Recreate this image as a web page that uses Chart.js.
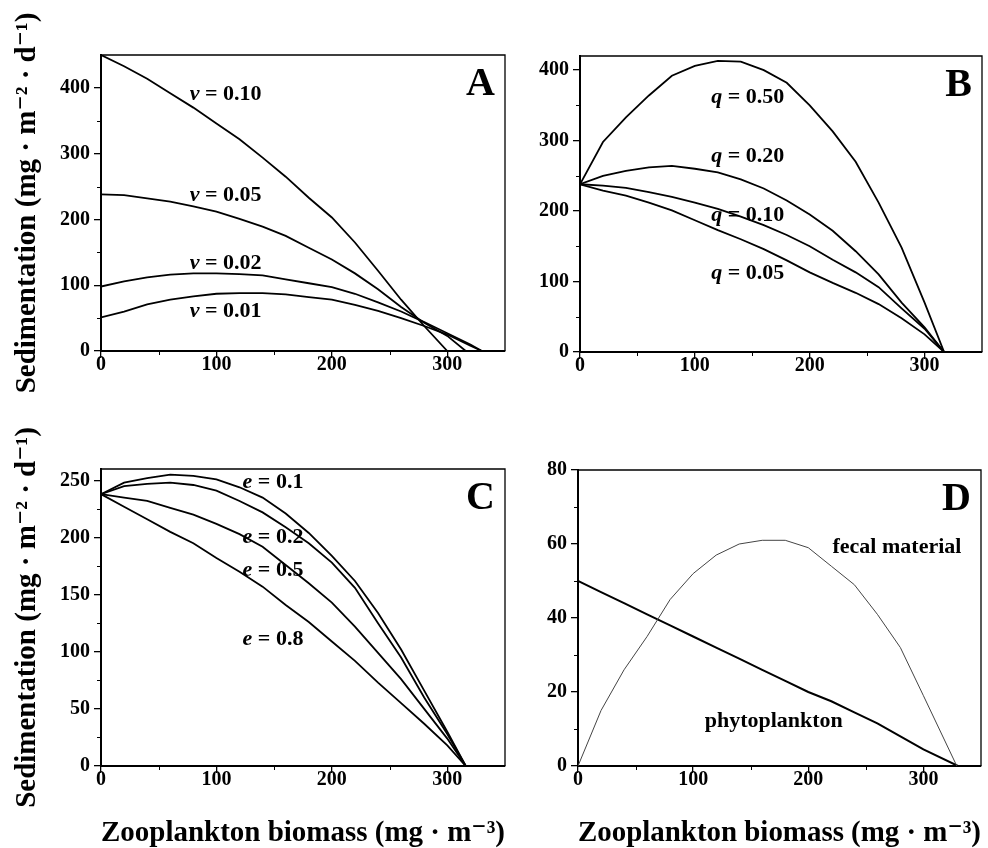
<!DOCTYPE html>
<html>
<head>
<meta charset="utf-8">
<title>Sedimentation vs zooplankton biomass</title>
<script src="https://cdn.jsdelivr.net/npm/chart.js@4.4.1/dist/chart.umd.min.js"></script>
<style>
  body { margin: 0; background: #fff; }
  #wrap { position: relative; width: 988px; height: 848px; overflow: hidden; }
  canvas { position: absolute; }
</style>
</head>
<body>
<div id="wrap">
  <canvas id="cA" width="530" height="424" style="left:0px;top:0px"></canvas>
  <canvas id="cB" width="488" height="424" style="left:500px;top:0px"></canvas>
  <canvas id="cC" width="530" height="424" style="left:0px;top:424px"></canvas>
  <canvas id="cD" width="488" height="424" style="left:500px;top:424px"></canvas>
</div>
<script>
// ---- data ----

// Panel A : v = sinking velocity
const xA_010 = [0, 20, 40, 60, 80, 100, 120, 140, 160, 180, 200, 220, 240, 260, 280, 300];
const yA_010 = [450, 433, 414, 392, 370, 346, 322, 294, 265, 233, 203, 165, 122, 78, 38, 0];
const xA_005 = [0, 20, 40, 60, 80, 100, 120, 140, 160, 180, 200, 220, 240, 260, 280, 300, 316];
const yA_005 = [238, 237, 232, 227, 220, 212, 201, 189, 175, 157, 139, 118, 94, 67, 43, 23, 0];
const xA_002 = [0, 20, 40, 60, 80, 100, 120, 140, 160, 180, 200, 220, 240, 260, 280, 300, 320, 330];
const yA_002 = [98, 106, 112, 116, 118, 118, 117, 115, 109, 103, 97, 87, 74, 60, 44, 27, 10, 0];
const xA_001 = [0, 20, 40, 60, 80, 100, 120, 140, 160, 180, 200, 220, 240, 260, 280, 300, 320, 330];
const yA_001 = [51, 60, 71, 78, 83, 87, 88, 88, 86, 82, 78, 70, 61, 50, 38, 25, 8, 0];

// Panel B : q
const xB = [0, 20, 40, 60, 80, 100, 120, 140, 160, 180, 200, 220, 240, 260, 280, 300, 317];
const yB_050 = [238, 298, 333, 364, 392, 406, 413, 412, 400, 382, 350, 313, 270, 212, 148, 70, 0];
const yB_020 = [238, 250, 257, 262, 264, 260, 255, 245, 232, 215, 195, 172, 143, 110, 70, 35, 0];
const yB_010 = [238, 236, 233, 227, 220, 212, 203, 192, 180, 166, 150, 131, 113, 92, 62, 33, 0];
const yB_005 = [238, 229, 222, 212, 201, 187, 173, 160, 146, 130, 113, 98, 84, 68, 48, 25, 0];

// Panel C : e
const xC = [0, 20, 40, 60, 80, 100, 120, 140, 160, 180, 200, 220, 240, 260, 280, 300, 316];
const yC_01 = [238, 248, 252, 255, 254, 251, 244, 235, 221, 204, 184, 162, 134, 102, 66, 30, 0];
const yC_02 = [238, 245, 247, 248, 246, 241, 232, 222, 209, 195, 178, 156, 125, 95, 60, 28, 0];
const yC_05 = [238, 235, 232, 226, 220, 212, 203, 192, 176, 160, 143, 122, 99, 76, 50, 24, 0];
const yC_08 = [238, 227, 216, 205, 195, 182, 170, 157, 141, 126, 109, 92, 73, 55, 37, 18, 0];

// Panel D : fecal material and phytoplankton
const xD_fecal = [0, 20, 40, 60, 80, 100, 120, 140, 160, 180, 200, 220, 240, 260, 280, 300, 329];
const yD_fecal = [0, 15, 26, 35, 45, 52, 57, 60, 61, 61, 59, 54, 49, 41, 32, 19, 0];
const xD_phyto = [0, 20, 40, 60, 80, 100, 120, 140, 160, 180, 200, 220, 240, 260, 280, 300, 330];
const yD_phyto = [50, 47, 44, 41, 38, 35, 32, 29, 26, 23, 20, 17.5, 14.5, 11.5, 8, 4.5, 0];

// ticks
const xTicks = [0, 100, 200, 300];
const xMinor = [50, 150, 250];
const yTicksA = [0, 100, 200, 300, 400];
const yMinorA = [50, 150, 250, 350];
const yTicksB = [0, 100, 200, 300, 400];
const yMinorB = [50, 150, 250, 350];
const yTicksC = [0, 50, 100, 150, 200, 250];
const yMinorC = [25, 75, 125, 175, 225];
const yTicksD = [0, 20, 40, 60, 80];
const yMinorD = [10, 30, 50, 70];

// curve labels (text + where they sit, in data units)
const labelsA = ['v = 0.10', 'v = 0.05', 'v = 0.02', 'v = 0.01'];
const labelXA = [108, 108, 108, 108];
const labelYA = [390, 237, 133, 61];
const labelsB = ['q = 0.50', 'q = 0.20', 'q = 0.10', 'q = 0.05'];
const labelXB = [146, 146, 146, 146];
const labelYB = [362, 277, 194, 111];
const labelsC = ['e = 0.1', 'e = 0.2', 'e = 0.5', 'e = 0.8'];
const labelXC = [149, 149, 149, 149];
const labelYC = [248, 200, 171, 111];
const labelsD = ['fecal material', 'phytoplankton'];
const labelXD = [277, 170];
const labelYD = [59, 12];

const SERIF = '"Liberation Serif", "DejaVu Serif", serif';
const yTitle = 'Sedimentation (mg · m⁻² · d⁻¹)';
const xTitle = 'Zooplankton biomass (mg · m⁻³)';

function pts(xs, ys) {
  return xs.map((x, i) => ({ x: x, y: ys[i] }));
}

function drawLabel(ctx, text, px, py) {
  ctx.textBaseline = 'middle';
  ctx.textAlign = 'left';
  const m = text.match(/^([a-z]) (=.*)$/);
  const plain = 'bold 22px ' + SERIF;
  const ital = 'italic bold 22px ' + SERIF;
  if (m) {
    ctx.font = ital;
    const w1 = ctx.measureText(m[1] + ' ').width;
    ctx.font = plain;
    const w2 = ctx.measureText(m[2]).width;
    let left = px - (w1 + w2) / 2;
    ctx.font = ital;
    ctx.fillText(m[1], left, py);
    ctx.font = plain;
    ctx.fillText(m[2], left + w1, py);
  } else {
    ctx.font = plain;
    ctx.textAlign = 'center';
    ctx.fillText(text, px, py);
  }
}

const decor = {
  id: 'decor',
  afterDraw(chart, args, o) {
    const { ctx, chartArea: a } = chart;
    const sx = chart.scales.x, sy = chart.scales.y;
    ctx.save();
    ctx.strokeStyle = '#000';
    ctx.fillStyle = '#000';
    ctx.lineWidth = 1.3;
    ctx.beginPath();
    ctx.moveTo(a.left, a.top);
    ctx.lineTo(a.right, a.top);
    ctx.lineTo(a.right, a.bottom);
    ctx.stroke();
    // minor ticks
    ctx.lineWidth = 1;
    o.minorX.forEach(v => {
      const p = Math.round(sx.getPixelForValue(v)) + 0.5;
      ctx.beginPath(); ctx.moveTo(p, a.bottom); ctx.lineTo(p, a.bottom + 4); ctx.stroke();
    });
    o.minorY.forEach(v => {
      const p = Math.round(sy.getPixelForValue(v)) + 0.5;
      ctx.beginPath(); ctx.moveTo(a.left, p); ctx.lineTo(a.left - 4, p); ctx.stroke();
    });
    // curve labels
    o.labels.forEach((t, i) => drawLabel(ctx, t, sx.getPixelForValue(o.lx[i]), sy.getPixelForValue(o.ly[i])));
    // panel letter
    ctx.font = 'bold 40px ' + SERIF;
    ctx.textAlign = 'right';
    ctx.textBaseline = 'alphabetic';
    ctx.fillText(o.letter, a.right - 10, a.top + 40);
    ctx.restore();
  }
};

function makeChart(id, cfg) {
  const datasets = cfg.series.map(s => ({
    data: s.data,
    borderColor: s.color || '#000',
    borderWidth: s.width || 1.8,
    pointRadius: 0,
    tension: 0,
    fill: false
  }));
  return new Chart(document.getElementById(id), {
    type: 'line',
    data: { datasets: datasets },
    plugins: [decor],
    options: {
      responsive: false,
      animation: false,
      devicePixelRatio: 1,
      layout: { padding: { top: cfg.padTop, right: cfg.padRight, left: 0, bottom: 0 } },
      plugins: {
        legend: { display: false },
        tooltip: { enabled: false },
        decor: {
          minorX: xMinor, minorY: cfg.minorY, letter: cfg.letter,
          labels: cfg.labels, lx: cfg.lx, ly: cfg.ly
        }
      },
      scales: {
        x: {
          type: 'linear', min: 0, max: 350,
          afterBuildTicks: s => { s.ticks = xTicks.map(v => ({ value: v })); },
          afterFit: s => { s.height = cfg.xAxisH; },
          grid: { drawOnChartArea: false, color: '#000', lineWidth: 1.3, tickLength: 7 },
          border: { color: '#000', width: 2 },
          ticks: { color: '#000', font: { family: SERIF, size: 20, weight: 'bold', lineHeight: 1 }, padding: -3, maxRotation: 0 },
          title: {
            display: cfg.showXTitle, text: xTitle, color: '#000',
            font: { family: SERIF, size: 30, weight: 'bold', lineHeight: 1 },
            padding: { top: 0, bottom: 0 }
          }
        },
        y: {
          type: 'linear', min: 0, max: cfg.yMax,
          afterBuildTicks: s => { s.ticks = cfg.yTicks.map(v => ({ value: v })); },
          afterFit: s => { s.width = cfg.yAxisW; },
          grid: { drawOnChartArea: false, color: '#000', lineWidth: 1.3, tickLength: 7 },
          border: { color: '#000', width: 2 },
          ticks: { color: '#000', font: { family: SERIF, size: 20, weight: 'bold' }, padding: 4 },
          title: {
            display: cfg.showYTitle, text: yTitle, color: '#000',
            font: { family: SERIF, size: 29, weight: 'bold', lineHeight: 1.2 },
            padding: { top: 10, bottom: 0 }
          }
        }
      }
    }
  });
}

makeChart('cA', {
  letter: 'A', yMax: 450, yTicks: yTicksA, minorY: yMinorA,
  padTop: 55, padRight: 25, yAxisW: 101, xAxisH: 73,
  showXTitle: false, showYTitle: true,
  labels: labelsA, lx: labelXA, ly: labelYA,
  series: [
    { data: pts(xA_010, yA_010) },
    { data: pts(xA_005, yA_005) },
    { data: pts(xA_002, yA_002) },
    { data: pts(xA_001, yA_001) }
  ]
});

makeChart('cB', {
  letter: 'B', yMax: 420, yTicks: yTicksB, minorY: yMinorB,
  padTop: 56, padRight: 6, yAxisW: 80, xAxisH: 72,
  showXTitle: false, showYTitle: false,
  labels: labelsB, lx: labelXB, ly: labelYB,
  series: [
    { data: pts(xB, yB_050) },
    { data: pts(xB, yB_020) },
    { data: pts(xB, yB_010) },
    { data: pts(xB, yB_005) }
  ]
});

makeChart('cC', {
  letter: 'C', yMax: 260, yTicks: yTicksC, minorY: yMinorC,
  padTop: 45, padRight: 25, yAxisW: 101, xAxisH: 82,
  showXTitle: true, showYTitle: true,
  labels: labelsC, lx: labelXC, ly: labelYC,
  series: [
    { data: pts(xC, yC_01) },
    { data: pts(xC, yC_02) },
    { data: pts(xC, yC_05) },
    { data: pts(xC, yC_08) }
  ]
});

makeChart('cD', {
  letter: 'D', yMax: 80, yTicks: yTicksD, minorY: yMinorD,
  padTop: 46, padRight: 7, yAxisW: 78, xAxisH: 82,
  showXTitle: true, showYTitle: false,
  labels: labelsD, lx: labelXD, ly: labelYD,
  series: [
    { data: pts(xD_fecal, yD_fecal), color: '#444', width: 1 },
    { data: pts(xD_phyto, yD_phyto), width: 2 }
  ]
});
</script>
</body>
</html>
